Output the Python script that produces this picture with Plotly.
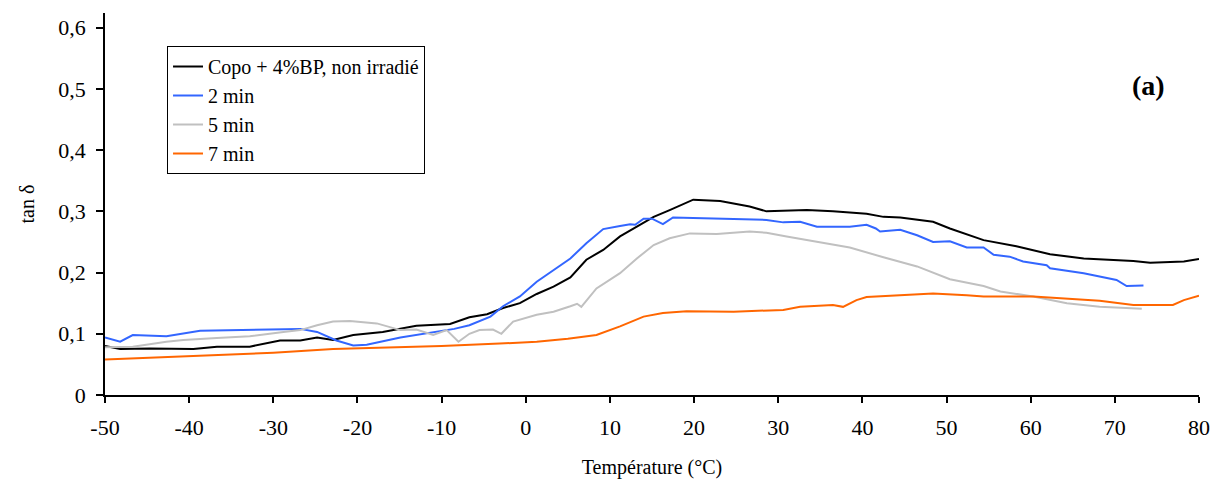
import plotly.graph_objects as go

# --- data ---
black_x = [-50, -48.2, -44.7, -39.5, -36.7, -32.8, -29.2, -26.8, -24.8, -22.9, -20.5, -17, -13, -9, -6.7, -4.6, -2.7, -0.7,
           1.3, 3.3, 5.3, 7.2, 9.2, 11.2, 13.2, 15.2, 17.1, 19.9, 23.1, 26.6, 28.6, 33.4, 36.5, 40.5, 42.5, 44.5, 48.4,
           50.4, 54.4, 58.3, 62.3, 66.3, 72.2, 74.2, 78.2, 80]
black_y = [0.080, 0.075, 0.076, 0.075, 0.079, 0.079, 0.089, 0.089, 0.094, 0.090, 0.098, 0.103, 0.113, 0.116, 0.127, 0.132,
           0.142, 0.150, 0.165, 0.177, 0.192, 0.221, 0.237, 0.259, 0.275, 0.291, 0.302, 0.319, 0.317, 0.308, 0.300, 0.302,
           0.300, 0.296, 0.291, 0.290, 0.283, 0.272, 0.253, 0.243, 0.230, 0.223, 0.219, 0.216, 0.218, 0.222]

blue_x = [-50, -48.2, -46.7, -42.7, -38.7, -34.8, -30.8, -26.8, -24.8, -22.5, -20.5, -18.9, -14.9, -11, -8.5, -6.7, -4.2,
          -2.7, -0.7, 1.3, 3.3, 5.3, 7.2, 9.2, 11.2, 12.4, 13, 14, 15, 16.3, 17.5, 20.7, 24.7, 28.6, 30.6, 32.6, 34.6,
          38.5, 40.5, 41.6, 42.1, 44.5, 46.5, 48.4, 50.4, 52.4, 54.4, 55.6, 57.5, 59.1, 61.9, 62.3, 66.3, 70.2, 71.4, 73.4]
blue_y = [0.094, 0.087, 0.098, 0.096, 0.105, 0.106, 0.106, 0.108, 0.103, 0.089, 0.081, 0.082, 0.094, 0.102, 0.108, 0.114,
          0.128, 0.145, 0.161, 0.185, 0.204, 0.223, 0.248, 0.271, 0.276, 0.279, 0.278, 0.288, 0.288, 0.279, 0.290, 0.289,
          0.287, 0.286, 0.282, 0.283, 0.275, 0.275, 0.278, 0.272, 0.267, 0.270, 0.261, 0.250, 0.251, 0.241, 0.241, 0.229,
          0.226, 0.218, 0.212, 0.207, 0.199, 0.188, 0.178, 0.179]

gray_x = [-50, -46.7, -42.7, -40.7, -36.7, -32.8, -28.8, -26.8, -24.8, -22.9, -20.9, -17.7, -14.9, -13, -11, -9.4, -8,
          -6.7, -5.5, -3.9, -2.9, -1.5, 1.3, 3.3, 5.3, 6.1, 6.6, 8.4, 11.2, 13.2, 15.2, 17.1, 19.5, 22.7, 26.6, 28.6, 31,
          34.6, 38.5, 42.5, 46.5, 50.4, 54.4, 56.4, 60.3, 64.3, 68.2, 73.2]
gray_y = [0.078, 0.079, 0.087, 0.090, 0.093, 0.096, 0.103, 0.106, 0.114, 0.120, 0.121, 0.117, 0.106, 0.107, 0.098, 0.106,
          0.087, 0.100, 0.106, 0.107, 0.100, 0.120, 0.131, 0.136, 0.145, 0.149, 0.144, 0.174, 0.199, 0.223, 0.245, 0.256,
          0.264, 0.263, 0.267, 0.265, 0.259, 0.250, 0.241, 0.225, 0.210, 0.189, 0.178, 0.169, 0.161, 0.150, 0.144, 0.141]

orange_x = [-50, -40, -30, -22.9, -10, -3.1, 1.3, 5, 8.4, 11.2, 14, 16.3, 19.1, 24.7, 30.6, 32.6, 36.5, 37.7, 39.3, 40.5,
            44.5, 48.4, 52.4, 54.4, 60.3, 64.3, 68.2, 72.2, 76.9, 78.2, 80]
orange_y = [0.058, 0.063, 0.069, 0.075, 0.080, 0.084, 0.087, 0.092, 0.098, 0.112, 0.128, 0.134, 0.137, 0.136, 0.139, 0.144,
            0.147, 0.144, 0.155, 0.160, 0.163, 0.166, 0.163, 0.161, 0.161, 0.158, 0.154, 0.147, 0.147, 0.155, 0.162]

series_names = ["Copo + 4%BP, non irradié", "2 min", "5 min", "7 min"]

y_tickvals = [0, 0.1, 0.2, 0.3, 0.4, 0.5, 0.6]
y_ticktext = ["0", "0,1", "0,2", "0,3", "0,4", "0,5", "0,6"]
x_tickvals = [-50, -40, -30, -20, -10, 0, 10, 20, 30, 40, 50, 60, 70, 80]
x_ticktext = ["-50", "-40", "-30", "-20", "-10", "0", "10", "20", "30", "40", "50", "60", "70", "80"]

FONT = "Liberation Serif, Times New Roman, serif"

fig = go.Figure()
for xs, ys, name, color in [
    (black_x, black_y, series_names[0], "#000000"),
    (blue_x, blue_y, series_names[1], "#3366FF"),
    (gray_x, gray_y, series_names[2], "#C0C0C0"),
    (orange_x, orange_y, series_names[3], "#FF6600"),
]:
    fig.add_trace(go.Scatter(x=xs, y=ys, mode="lines", name=name,
                             line=dict(color=color, width=2)))

fig.update_layout(
    width=1214, height=481,
    margin=dict(l=105, r=15, t=13, b=86),
    paper_bgcolor="white", plot_bgcolor="white",
    font=dict(family=FONT, size=22, color="black"),
    showlegend=True,
    legend=dict(x=0.0567, y=0.9136, xanchor="left", yanchor="top",
                bordercolor="black", borderwidth=1, bgcolor="white",
                font=dict(family=FONT, size=20), tracegroupgap=0),
    annotations=[dict(text="<b>(a)</b>", x=0.9707, y=0.856, xref="paper", yref="paper",
                      showarrow=False, font=dict(family=FONT, size=28, color="black"))],
)
fig.update_xaxes(range=[-50, 80], tickvals=x_tickvals, ticktext=x_ticktext, automargin=False,
                 showline=True, linecolor="black", linewidth=1.5, showgrid=False, zeroline=False,
                 ticks="outside", ticklen=6, tickcolor="black", tickwidth=1.5,
                 tickfont=dict(family=FONT, size=22), ticklabelstandoff=6,
                 title=dict(text="Température (°C)", font=dict(family=FONT, size=20), standoff=21))
fig.update_yaxes(range=[0, 0.624], tickvals=y_tickvals, ticktext=y_ticktext, automargin=False,
                 showline=True, linecolor="black", linewidth=1.5, showgrid=False, zeroline=False,
                 ticks="outside", ticklen=7, tickcolor="black", tickwidth=1.5,
                 tickfont=dict(family=FONT, size=22), ticklabelstandoff=6,
                 title=dict(text="tan δ", font=dict(family=FONT, size=20), standoff=18))

fig.write_html("out.html", config={"displayModeBar": False},
               post_script="document.body.style.margin='0';document.body.style.overflow='hidden';")
